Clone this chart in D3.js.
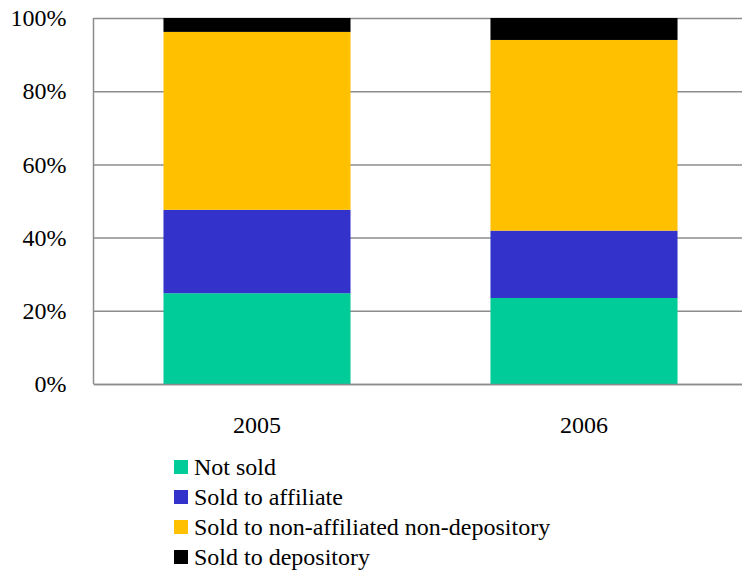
<!DOCTYPE html>
<html>
<head>
<meta charset="utf-8">
<script src="https://cdn.jsdelivr.net/npm/d3@7"></script>
</head>
<body style="margin:0">
<script>
// data (percent of total)
var years = ["2005", "2006"];
var seriesNames = ["Not sold", "Sold to affiliate", "Sold to non-affiliated non-depository", "Sold to depository"];
var notSold = [24.8, 23.5];
var soldAffiliate = [22.8, 18.4];
var soldNonAffiliated = [48.6, 52.1];
var soldDepository = [3.8, 6.0];
var yTicks = [0, 20, 40, 60, 80, 100];
var colors = ["#00cc99", "#3333cc", "#ffc000", "#000000"];

var w = 742, h = 573;
var plotLeft = 93.5, plotRight = 747.5, plotTop = 18, plotBottom = 384;
var serif = "'Liberation Serif', Tinos, 'Times New Roman', serif";

// rows for the stack
var rows = years.map(function(y, i) {
    var r = { year: y };
    r[seriesNames[0]] = notSold[i];
    r[seriesNames[1]] = soldAffiliate[i];
    r[seriesNames[2]] = soldNonAffiliated[i];
    r[seriesNames[3]] = soldDepository[i];
    return r;
});
var series = d3.stack().keys(seriesNames)(rows);

var svg = d3.select("body").append("svg").attr("width", w).attr("height", h)
    .style("font-family", serif, "important");

var xScale = d3.scaleBand().domain(years).range([plotLeft, plotRight]).paddingInner(0.428).paddingOuter(0.214);
var yScale = d3.scaleLinear().domain([0, 100]).range([plotBottom, plotTop]);

// gridlines + y labels
var yAxis = d3.axisLeft(yScale).tickValues(yTicks).tickSize(-(plotRight - plotLeft)).tickFormat(function(d) { return d + "%"; });
var gy = svg.append("g").attr("transform", "translate(" + plotLeft + ",0)").call(yAxis);
gy.attr("font-family", null).attr("font-size", null);
gy.select(".domain").remove();
gy.selectAll(".tick line").attr("stroke", "#8c8c8c").attr("stroke-width", 1.5);
gy.selectAll(".tick text").attr("x", -27).attr("fill", "#000")
    .style("font-family", serif, "important").style("font-size", "24px", "important");

// left axis line
svg.append("line").attr("x1", plotLeft).attr("x2", plotLeft).attr("y1", yScale(100)).attr("y2", yScale(0))
    .attr("stroke", "#8c8c8c").attr("stroke-width", 1.5);

// bars
svg.selectAll("g.layer")
    .data(series)
    .enter()
    .append("g")
    .attr("class", "layer")
    .attr("fill", function(d, i) { return colors[i]; })
    .selectAll("rect")
    .data(function(d) { return d; })
    .enter()
    .append("rect")
    .attr("x", function(d) { return xScale(d.data.year); })
    .attr("width", xScale.bandwidth())
    .attr("y", function(d) { return yScale(d[1]); })
    .attr("height", function(d) { return yScale(d[0]) - yScale(d[1]); });

// x axis
var xAxis = d3.axisBottom(xScale).tickSize(0).tickPadding(0);
var gx = svg.append("g").attr("transform", "translate(0," + plotBottom + ")").call(xAxis);
gx.attr("font-family", null).attr("font-size", null);
gx.select(".domain").attr("stroke", "#8c8c8c").attr("stroke-width", 1.5);
gx.selectAll(".tick text").attr("y", 49).attr("dy", 0).attr("fill", "#000")
    .style("font-family", serif, "important").style("font-size", "24px", "important");

// legend
var legend = svg.append("g").attr("transform", "translate(174,467)");
seriesNames.forEach(function(name, i) {
    legend.append("rect").attr("x", 0).attr("y", i * 30 - 7).attr("width", 14).attr("height", 14).attr("fill", colors[i]);
    legend.append("text").attr("x", 20).attr("y", i * 30 + 8).text(name).attr("fill", "#000")
        .style("font-family", serif, "important").style("font-size", "24px", "important");
});
</script>
</body>
</html>
